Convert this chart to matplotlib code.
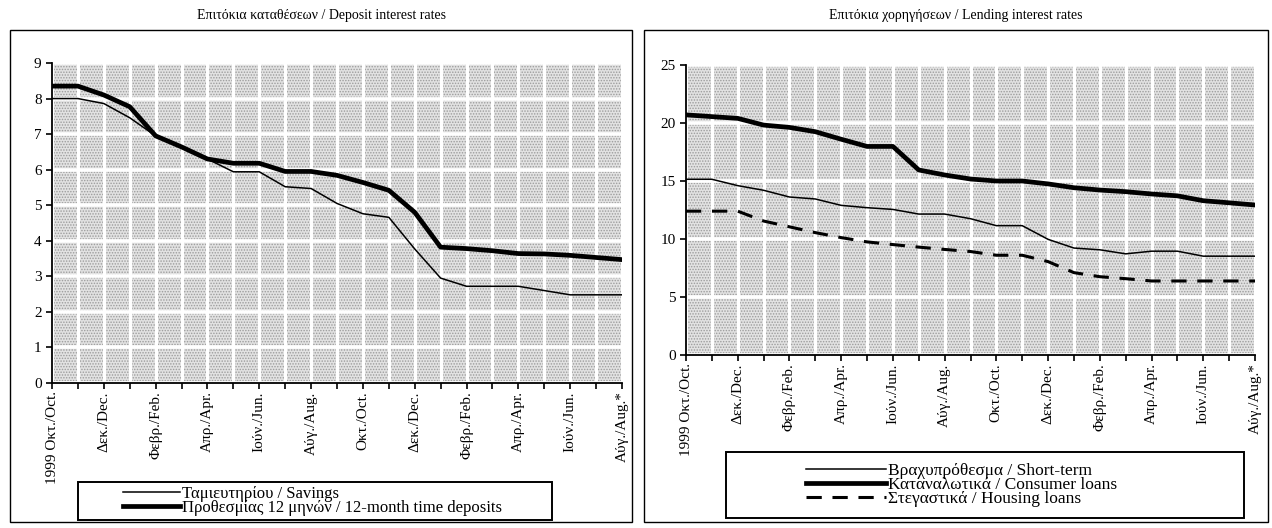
import numpy as np
import matplotlib
matplotlib.use('Agg')
import matplotlib.pyplot as plt
from matplotlib.patches import Rectangle

plt.rcParams['font.family'] = ['Liberation Serif', 'DejaVu Serif']
plt.rcParams['hatch.linewidth'] = 0.7

# months Oct 1999 .. Aug 2001
months = list(range(23))
tick_labels = ['1999 Οκτ./Oct.', 'Δεκ./Dec.', 'Φεβρ./Feb.', 'Απρ./Apr.', 'Ιούν./Jun.', 'Αύγ./Aug.',
               'Οκτ./Oct.', 'Δεκ./Dec.', 'Φεβρ./Feb.', 'Απρ./Apr.', 'Ιούν./Jun.', 'Αύγ./Aug.*']

# deposit rates
savings = [8.0, 8.0, 7.86, 7.46, 6.95, 6.64, 6.3, 5.94, 5.94, 5.52, 5.47, 5.05,
           4.76, 4.66, 3.77, 2.95, 2.72, 2.72, 2.72, 2.6, 2.48, 2.48, 2.48]
time_dep = [8.35, 8.35, 8.1, 7.77, 6.95, 6.64, 6.3, 6.18, 6.18, 5.95, 5.95, 5.84,
            5.64, 5.42, 4.8, 3.82, 3.78, 3.72, 3.64, 3.63, 3.59, 3.53, 3.47]

# lending rates
short_term = [15.15, 15.15, 14.6, 14.2, 13.62, 13.45, 12.9, 12.7, 12.55, 12.15, 12.15, 11.75,
              11.15, 11.15, 9.97, 9.22, 9.07, 8.72, 8.95, 8.95, 8.52, 8.52, 8.52]
consumer = [20.7, 20.55, 20.4, 19.82, 19.62, 19.25, 18.6, 17.98, 17.98, 15.95, 15.52, 15.17,
            15.0, 15.0, 14.75, 14.42, 14.22, 14.08, 13.88, 13.72, 13.3, 13.12, 12.93]
housing = [12.4, 12.4, 12.4, 11.55, 11.05, 10.55, 10.12, 9.75, 9.52, 9.3, 9.1, 8.92,
           8.6, 8.6, 8.05, 7.1, 6.75, 6.58, 6.38, 6.38, 6.38, 6.38, 6.38]

W, H = 1272, 528
fig = plt.figure(figsize=(W / 100, H / 100), dpi=100)


def style_axes(ax, ymax, ystep):
    ax.set_facecolor('white')
    # dotted grey fill like the original
    ax.add_patch(Rectangle((0, 0), 1, 1, transform=ax.transAxes, facecolor='#e2e2e2',
                           edgecolor='#9c9c9c', hatch='......', lw=0, zorder=0.5))
    ax.set_xlim(0, 22)
    ax.set_ylim(0, ymax)
    ax.set_xticks(range(0, 23, 2))
    ax.set_xticklabels(tick_labels, rotation=90, fontsize=11)
    ax.set_xticks(months, minor=True)
    ax.set_yticks(np.arange(0, ymax + 0.1, ystep))
    ax.tick_params(axis='both', which='both', direction='out', length=4, width=1.2, labelsize=11)
    ax.tick_params(axis='x', which='major', pad=2)
    ax.grid(True, which='both', axis='x', color='white', lw=2.2, zorder=1)
    ax.grid(True, which='major', axis='y', color='white', lw=2.6, zorder=1)
    ax.spines['top'].set_visible(False)
    ax.spines['right'].set_visible(False)
    ax.spines['left'].set_linewidth(1.3)
    ax.spines['bottom'].set_linewidth(1.3)
    ax.set_axisbelow(True)


# ---- left panel
ax1 = fig.add_axes([52 / W, 1 - 383 / H, (622 - 52) / W, (383 - 63) / H])
style_axes(ax1, 9, 1)
l1, = ax1.plot(months, savings, color='black', lw=1.1, zorder=3)
l2, = ax1.plot(months, time_dep, color='black', lw=3.4, zorder=3)

# ---- right panel
ax2 = fig.add_axes([686 / W, 1 - 355 / H, (1255 - 686) / W, (355 - 65) / H])
style_axes(ax2, 25, 5)
r1, = ax2.plot(months, short_term, color='black', lw=1.1, zorder=3)
r2, = ax2.plot(months, consumer, color='black', lw=3.4, zorder=3)
r3, = ax2.plot(months, housing, color='black', lw=2.2, dashes=(5, 3.5), zorder=3)

# outer frames and titles
for x0, x1 in [(10, 632), (644, 1268)]:
    fig.patches.append(Rectangle((x0 / W, 1 - 522 / H), (x1 - x0) / W, (522 - 30) / H,
                                 transform=fig.transFigure, fill=False, ec='black', lw=1))
fig.text(321 / W, 1 - 15 / H, 'Επιτόκια καταθέσεων / Deposit interest rates',
         ha='center', va='center', fontsize=10)
fig.text(956 / W, 1 - 15 / H, 'Επιτόκια χορηγήσεων / Lending interest rates',
         ha='center', va='center', fontsize=10)

# legends
fig.patches.append(Rectangle((78 / W, 1 - 520 / H), (552 - 78) / W, (520 - 482) / H,
                             transform=fig.transFigure, fill=False, ec='black', lw=1.4))
fig.legend([l1, l2], ['Ταμιευτηρίου / Savings', 'Προθεσμίας 12 μηνών / 12-month time deposits'],
           loc='center left', bbox_to_anchor=(123 / W, 1 - 501 / H), frameon=False,
           fontsize=12, handlelength=3.4, handletextpad=0.15, labelspacing=-0.15,
           borderpad=0, borderaxespad=0)

fig.patches.append(Rectangle((726 / W, 1 - 518 / H), (1244 - 726) / W, (518 - 452) / H,
                             transform=fig.transFigure, fill=False, ec='black', lw=1.4))
fig.legend([r1, r2, r3], ['Βραχυπρόθεσμα / Short-term', 'Καταναλωτικά / Consumer loans',
                          'Στεγαστικά / Housing loans'],
           loc='center left', bbox_to_anchor=(806 / W, 1 - 485 / H), frameon=False,
           fontsize=12.5, handlelength=4.6, handletextpad=0.15, labelspacing=-0.1,
           borderpad=0, borderaxespad=0)

fig.savefig('out.png', dpi=100)
